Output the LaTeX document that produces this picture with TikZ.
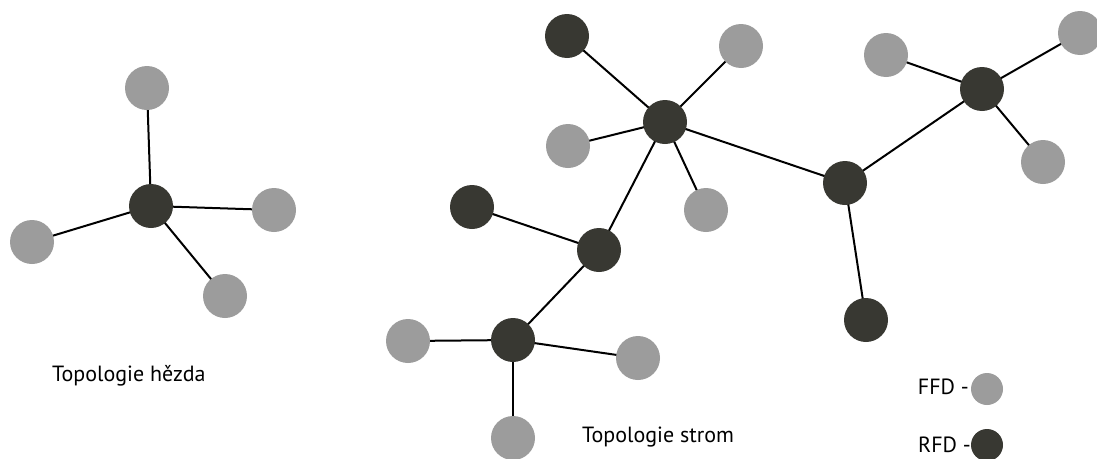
\documentclass[tikz,border=0pt]{standalone}
\usepackage{fontspec}
\setmainfont{PT Sans}
\definecolor{rfd}{HTML}{383832}
\definecolor{ffd}{HTML}{9C9C9C}
\begin{document}
\begin{tikzpicture}[x=1pt,y=-1pt,
  rnode/.style={circle,fill=rfd,minimum size=44pt,inner sep=0pt},
  fnode/.style={circle,fill=ffd,minimum size=44pt,inner sep=0pt},
  rleg/.style={circle,fill=rfd,minimum size=32pt,inner sep=0pt},
  fleg/.style={circle,fill=ffd,minimum size=32pt,inner sep=0pt},
  link/.style={line width=2pt,black},
  lbl/.style={font=\fontsize{22}{24}\selectfont,inner sep=0pt}]
\useasboundingbox (0,0) rectangle (1097,458);
\coordinate (s0) at (151,206);
\coordinate (s1) at (147,88);
\coordinate (s2) at (274,210);
\coordinate (s3) at (32,242);
\coordinate (s4) at (225,296);
\coordinate (a) at (665,122);
\coordinate (b) at (845,183);
\coordinate (c) at (982,89);
\coordinate (d) at (599,250);
\coordinate (e) at (513,340);
\coordinate (f) at (567,36);
\coordinate (g) at (472,207);
\coordinate (h) at (866,320);
\coordinate (g1) at (741,46);
\coordinate (g2) at (886,55);
\coordinate (g3) at (1080,33);
\coordinate (g4) at (1043,162);
\coordinate (g5) at (568,146);
\coordinate (g6) at (706,210);
\coordinate (g7) at (408,341);
\coordinate (g8) at (638,358);
\coordinate (g9) at (513,438);
\foreach \u/\v in {s0/s1,s0/s2,s0/s3,s0/s4,a/f,a/g1,a/g5,a/g6,a/b,a/d,b/c,b/h,c/g2,c/g3,c/g4,d/g,d/e,e/g7,e/g8,e/g9}
  \draw[link] (\u) -- (\v);
\foreach \n in {s0,a,b,c,d,e,f,g,h}
  \node[rnode] (n\n) at (\n) {};
\foreach \n in {s1,s2,s3,s4,g1,g2,g3,g4,g5,g6,g7,g8,g9}
  \node[fnode] (n\n) at (\n) {};
\node[lbl,anchor=west] (t1) at (52,376) {Topologie hězda};
\node[lbl,anchor=west] (t2) at (582,437) {Topologie strom};
\node[fleg] (lf) at (987,389) {};
\node[rleg] (lr) at (987,445) {};
\node[lbl,anchor=east] (tf) at (969,387) {FFD -};
\node[lbl,anchor=east] (tr) at (971,445) {RFD -};
\end{tikzpicture}
\end{document}
